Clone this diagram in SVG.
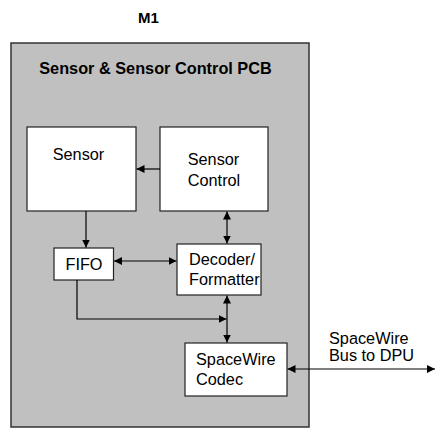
<svg xmlns="http://www.w3.org/2000/svg" width="437" height="428" viewBox="0 0 437 428">
<style>
text{font-family:"Liberation Sans",Arial,sans-serif;font-size:16.3px;fill:#000}
.b{font-weight:bold}
.box{fill:#fff;stroke:#222;stroke-width:1.2}
.pcb{fill:#c0c0c0;stroke:#333;stroke-width:1.5}
.ln{fill:none;stroke:#000;stroke-width:1.2}
</style>
<defs>
<marker id="ah" viewBox="0 0 10 10" refX="10" refY="5" markerWidth="8" markerHeight="8" markerUnits="userSpaceOnUse" orient="auto-start-reverse">
<path d="M0,0 L10,5 L0,10 z" fill="#000"/>
</marker>
</defs>
<text class="b" x="148.5" y="23" text-anchor="middle" style="font-size:15px">M1</text>
<g id="pcb">
<rect class="pcb" x="11" y="43" width="298" height="384"/>
<text class="b" x="155.5" y="74" text-anchor="middle">Sensor &amp; Sensor Control PCB</text>
</g>
<g id="sensor">
<rect class="box" x="27" y="127" width="109" height="84"/>
<text x="78.5" y="160" text-anchor="middle">Sensor</text>
</g>
<g id="sensor-control">
<rect class="box" x="160" y="127" width="108" height="84"/>
<text x="213.5" y="165" text-anchor="middle">Sensor</text>
<text x="214" y="186" text-anchor="middle">Control</text>
</g>
<g id="fifo">
<rect class="box" x="54" y="248" width="59.5" height="32"/>
<text x="84" y="270" text-anchor="middle">FIFO</text>
</g>
<g id="decoder">
<rect class="box" x="177" y="244" width="84" height="51"/>
<text x="189" y="265">Decoder/</text>
<text x="189" y="285">Formatter</text>
</g>
<g id="codec">
<rect class="box" x="185" y="343" width="102" height="53"/>
<text x="196" y="365">SpaceWire</text>
<text x="196" y="385">Codec</text>
</g>
<g id="connectors">
<line class="ln" x1="160" y1="169" x2="136.5" y2="169" marker-end="url(#ah)"/>
<line class="ln" x1="86" y1="211" x2="86" y2="247.5" marker-end="url(#ah)"/>
<line class="ln" x1="227" y1="211.5" x2="227" y2="243.5" marker-start="url(#ah)" marker-end="url(#ah)"/>
<line class="ln" x1="114" y1="261" x2="176.5" y2="261" marker-start="url(#ah)" marker-end="url(#ah)"/>
<line class="ln" x1="227" y1="295.5" x2="227" y2="342.5" marker-start="url(#ah)" marker-end="url(#ah)"/>
<polyline class="ln" points="77,280 77,319 226.5,319" marker-end="url(#ah)"/>
<line class="ln" x1="287.5" y1="369" x2="435" y2="369" marker-start="url(#ah)" marker-end="url(#ah)"/>
<text x="329" y="344">SpaceWire</text>
<text x="329" y="361">Bus to DPU</text>
</g>
</svg>
